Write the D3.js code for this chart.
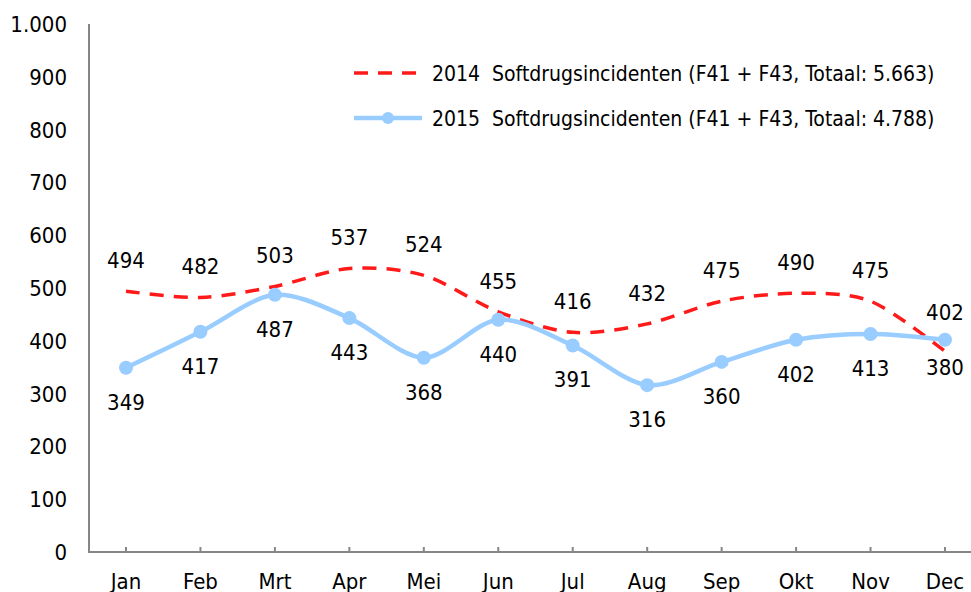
<!DOCTYPE html>
<html>
<head>
<meta charset="utf-8">
<script src="https://cdn.jsdelivr.net/npm/d3@7"></script>
<style>
  body { margin: 0; background: #fff; }
  svg { display: block; font-family: "DejaVu Sans Condensed", "DejaVu Sans", sans-serif; }
</style>
</head>
<body>
<div class="chart"></div>
<script>
var w = 971;
var h = 592;

var months = ["Jan", "Feb", "Mrt", "Apr", "Mei", "Jun", "Jul", "Aug", "Sep", "Okt", "Nov", "Dec"];
var incidents2014 = [494, 482, 503, 537, 524, 455, 416, 432, 475, 490, 475, 380];
var incidents2015 = [349, 417, 487, 443, 368, 440, 391, 316, 360, 402, 413, 402];
var yTicks = [0, 100, 200, 300, 400, 500, 600, 700, 800, 900, 1000];
var legendLabels = [
  "2014\u00a0 Softdrugsincidenten (F41 + F43, Totaal: 5.663)",
  "2015\u00a0 Softdrugsincidenten (F41 + F43, Totaal: 4.788)"
];

var svg = d3.select(".chart")
  .append("svg")
  .attr("width", w)
  .attr("height", h);

var x = d3.scalePoint()
  .domain(months)
  .range([126, 945]);

var y = d3.scaleLinear()
  .domain([0, 1000])
  .range([552, 24]);

var fmt = function(d) {
  return d3.format(",")(d).replace(",", ".");
};

// axes
svg.append("line")
  .attr("x1", 89).attr("x2", 89)
  .attr("y1", y(1000)).attr("y2", y(0))
  .attr("stroke", "#868686").attr("stroke-width", 2);

svg.append("line")
  .attr("x1", 88).attr("x2", w)
  .attr("y1", y(0)).attr("y2", y(0))
  .attr("stroke", "#868686").attr("stroke-width", 2);

svg.selectAll(".xtick")
  .data(months)
  .enter().append("line")
  .attr("x1", function(d) { return x(d); })
  .attr("x2", function(d) { return x(d); })
  .attr("y1", y(0)).attr("y2", y(0) - 5)
  .attr("stroke", "#868686").attr("stroke-width", 2);

svg.selectAll(".ylabel")
  .data(yTicks)
  .enter().append("text")
  .attr("x", 67)
  .attr("y", function(d) { return y(d); })
  .attr("dy", "0.36em")
  .attr("text-anchor", "end")
  .attr("font-size", 22)
  .attr("fill", "#000")
  .text(fmt);

svg.selectAll(".xlabel")
  .data(months)
  .enter().append("text")
  .attr("x", function(d) { return x(d); })
  .attr("y", 581)
  .attr("dy", "0.36em")
  .attr("text-anchor", "middle")
  .attr("font-size", 22)
  .attr("fill", "#000")
  .text(function(d) { return d; });

// lines
var line = d3.line()
  .x(function(d, i) { return x(months[i]); })
  .y(function(d) { return y(d); })
  .curve(d3.curveCardinal.tension(0.1));

svg.append("path")
  .datum(incidents2014)
  .attr("d", line)
  .attr("fill", "none")
  .attr("stroke", "#ff1a1a")
  .attr("stroke-width", 3.5)
  .attr("stroke-dasharray", "14,10");

svg.append("path")
  .datum(incidents2015)
  .attr("d", line)
  .attr("fill", "none")
  .attr("stroke", "#99ccff")
  .attr("stroke-width", 4.5);

svg.selectAll(".dot")
  .data(incidents2015)
  .enter().append("circle")
  .attr("cx", function(d, i) { return x(months[i]); })
  .attr("cy", function(d) { return y(d); })
  .attr("r", 7)
  .attr("fill", "#99ccff");

// data labels: 2014 above, 2015 below (swapped in Dec)
var last = months.length - 1;
svg.selectAll(".lbl14")
  .data(incidents2014)
  .enter().append("text")
  .attr("x", function(d, i) { return x(months[i]); })
  .attr("y", function(d, i) { return i === last ? y(d) + 16 : y(d) - 31; })
  .attr("dy", "0.36em")
  .attr("text-anchor", "middle")
  .attr("font-size", 22)
  .text(function(d) { return d; });

svg.selectAll(".lbl15")
  .data(incidents2015)
  .enter().append("text")
  .attr("x", function(d, i) { return x(months[i]); })
  .attr("y", function(d, i) { return i === last ? y(d) - 28 : y(d) + 34; })
  .attr("dy", "0.36em")
  .attr("text-anchor", "middle")
  .attr("font-size", 22)
  .text(function(d) { return d; });

// legend
var legend = svg.append("g");

legend.append("line")
  .attr("x1", 354).attr("x2", 422)
  .attr("y1", 73).attr("y2", 73)
  .attr("stroke", "#ff1a1a")
  .attr("stroke-width", 3.5)
  .attr("stroke-dasharray", "14,10");

legend.append("line")
  .attr("x1", 354).attr("x2", 422)
  .attr("y1", 118).attr("y2", 118)
  .attr("stroke", "#99ccff")
  .attr("stroke-width", 4.5);

legend.append("circle")
  .attr("cx", 388).attr("cy", 118).attr("r", 6)
  .attr("fill", "#99ccff");

legend.selectAll("text")
  .data(legendLabels)
  .enter().append("text")
  .attr("x", 432)
  .attr("y", function(d, i) { return 73 + i * 45; })
  .attr("dy", "0.36em")
  .attr("font-size", 21)
  .text(function(d) { return d; });
</script>
</body>
</html>
